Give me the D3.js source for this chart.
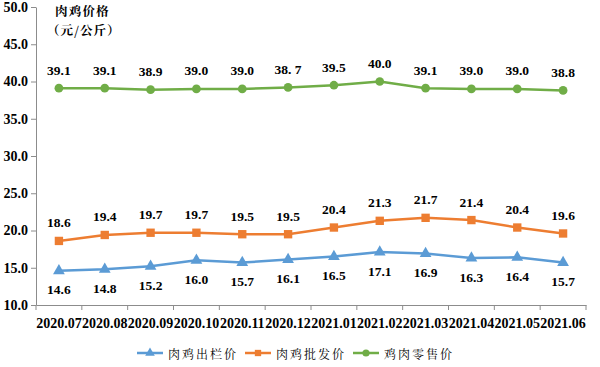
<!DOCTYPE html>
<html><head><meta charset="utf-8">
<script src="https://cdn.jsdelivr.net/npm/d3@7"></script>
<style>
body{margin:0;background:#fff;} svg{display:block;}
</style>
</head><body>
<script>
const categories = ["2020.07","2020.08","2020.09","2020.10","2020.11","2020.12","2021.01","2021.02","2021.03","2021.04","2021.05","2021.06"];
const chuLan = [14.6,14.8,15.2,16.0,15.7,16.1,16.5,17.1,16.9,16.3,16.4,15.7];
const piFa = [18.6,19.4,19.7,19.7,19.5,19.5,20.4,21.3,21.7,21.4,20.4,19.6];
const lingShou = [39.1,39.1,38.9,39.0,39.0,39.2,39.5,40.0,39.1,39.0,39.0,38.8];
const lingShouLabels = ["39.1","39.1","38.9","39.0","39.0","38. 7","39.5","40.0","39.1","39.0","39.0","38.8"];
const yTicks = [10,15,20,25,30,35,40,45,50];
const seriesNames = ["肉鸡出栏价","肉鸡批发价","鸡肉零售价"];

const W=600,H=367;
const SF='"Liberation Serif","Times New Roman",serif';
const CJ='"Noto Serif CJK SC","Noto Sans CJK SC",serif';
const svg=d3.select("body").append("svg").attr("width",W).attr("height",H);
const x=d3.scaleBand().domain(categories).range([36,586]);
const y=d3.scaleLinear().domain([10,50]).range([305,7]);

// y axis
const ya=svg.append("g").attr("transform","translate(36,0)").call(d3.axisLeft(y).tickValues(yTicks).tickFormat(d3.format(".1f")).tickSize(5).tickSizeOuter(0));
ya.select(".domain").attr("stroke","#8c8c8c");
ya.selectAll(".tick line").attr("stroke","#8c8c8c");
ya.selectAll("text").style("font-family",SF).style("font-weight","bold").style("font-size","14px").attr("fill","#000").attr("x",-8);

// x axis
const xa=svg.append("g").attr("transform","translate(0,305)").call(d3.axisBottom(x).tickSize(0).tickSizeOuter(0));
xa.select(".domain").attr("stroke","#8c8c8c");
xa.selectAll(".tick line").remove();
xa.selectAll("text").style("font-family",SF).style("font-weight","bold").style("font-size","14px").attr("fill","#000").attr("y",0).attr("dy",null).attr("dominant-baseline","central").attr("transform","translate(0,18)");
const bounds=categories.map(c=>x(c)).concat([x.range()[1]]);
svg.append("g").selectAll("line").data(bounds).join("line")
  .attr("x1",d=>d).attr("x2",d=>d).attr("y1",305).attr("y2",310).attr("stroke","#8c8c8c");

const cx=c=>x(c)+x.bandwidth()/2;
const series=[
 {vals:chuLan,color:"#5B9BD5",shape:d3.symbolTriangle,size:60,lab:chuLan.map(v=>v.toFixed(1)),dy:19},
 {vals:piFa,color:"#ED7D31",shape:d3.symbolSquare,size:70,lab:piFa.map(v=>v.toFixed(1)),dy:-18},
 {vals:lingShou,color:"#70AD47",shape:d3.symbolCircle,size:60,lab:lingShouLabels,dy:-18}
];
series.forEach(s=>{
  const line=d3.line().x((d,i)=>cx(categories[i])).y(d=>y(d));
  svg.append("path").datum(s.vals).attr("d",line).attr("fill","none").attr("stroke",s.color).attr("stroke-width",2.5);
  svg.append("g").selectAll("path").data(s.vals).join("path")
    .attr("d",d3.symbol().type(s.shape).size(s.size))
    .attr("transform",(d,i)=>`translate(${cx(categories[i])},${y(d)})`)
    .attr("fill",s.color);
  svg.append("g").selectAll("text").data(s.vals).join("text")
    .style("font-family",SF).style("font-weight","bold").style("font-size","13.5px")
    .attr("x",(d,i)=>cx(categories[i])).attr("y",d=>y(d)+s.dy)
    .attr("text-anchor","middle").attr("dominant-baseline","central")
    .text((d,i)=>s.lab[i]);
});

// title
svg.append("text").style("font-family",CJ).style("font-weight","bold").style("font-size","12.5px").attr("x",55).attr("y",16).attr("letter-spacing",1.2).text("肉鸡价格");
svg.append("text").style("font-family",CJ).style("font-weight","bold").style("font-size","12.5px").attr("x",47).attr("y",35).attr("letter-spacing",1).text("（元/公斤）");

// legend
const lx=[137,245,353];
series.forEach((s,i)=>{
  const g=svg.append("g").attr("transform",`translate(${lx[i]},353)`);
  g.append("line").attr("x1",0).attr("x2",26).attr("stroke",s.color).attr("stroke-width",2.5);
  g.append("path").attr("d",d3.symbol().type(s.shape).size(40)).attr("transform","translate(13,0)").attr("fill",s.color);
  g.append("text").style("font-family",CJ).style("font-size","12px").attr("x",31).attr("y",0).attr("dominant-baseline","central").attr("letter-spacing",2).text(seriesNames[i]);
});
</script>
</body></html>
